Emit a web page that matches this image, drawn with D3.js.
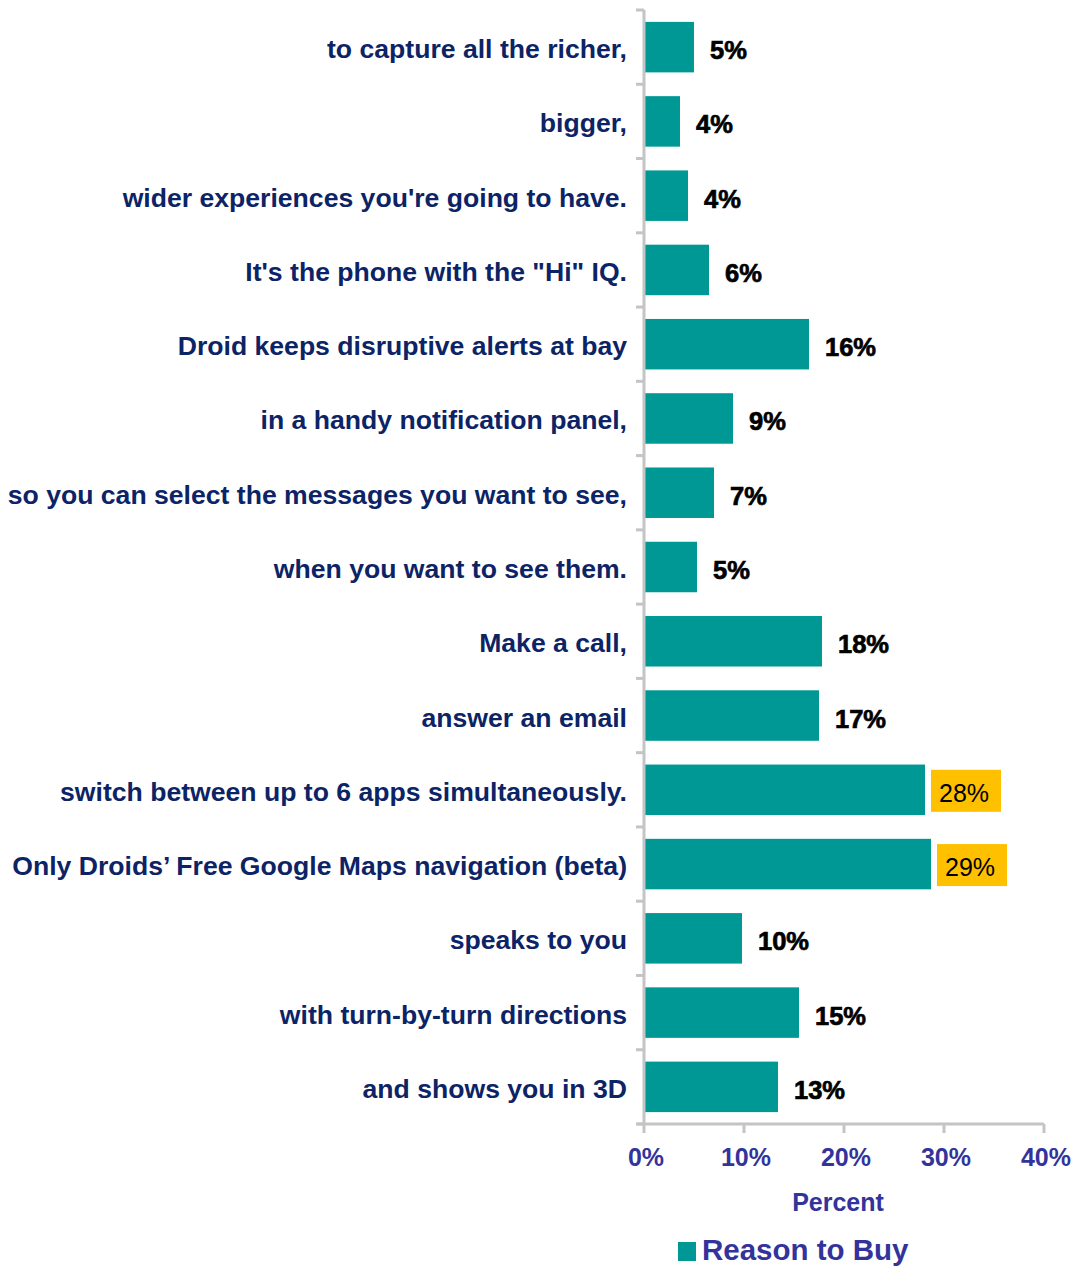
<!DOCTYPE html>
<html>
<head>
<meta charset="utf-8">
<script src="https://cdn.jsdelivr.net/npm/d3@7"></script>
<style>
  body { margin: 0; background: #fff; }
  svg text { font-family: Arial, "Liberation Sans", sans-serif; }
</style>
</head>
<body>
<svg id="Viz" width="1082" height="1266"></svg>
<script>
var categories = [
  "to capture all the richer,",
  "bigger,",
  "wider experiences you're going to have.",
  "It's the phone with the \"Hi\" IQ.",
  "Droid keeps disruptive alerts at bay",
  "in a handy notification panel,",
  "so you can select the messages you want to see,",
  "when you want to see them.",
  "Make a call,",
  "answer an email",
  "switch between up to 6 apps simultaneously.",
  "Only Droids\u2019 Free Google Maps navigation (beta)",
  "speaks to you",
  "with turn-by-turn directions",
  "and shows you in 3D"
];
var values = [5.0, 3.6, 4.4, 6.5, 16.5, 8.9, 7.0, 5.3, 17.8, 17.5, 28.1, 28.7, 9.8, 15.5, 13.4];
var valueLabels = ["5%", "4%", "4%", "6%", "16%", "9%", "7%", "5%", "18%", "17%", "28%", "29%", "10%", "15%", "13%"];
var callouts = ["switch between up to 6 apps simultaneously.", "Only Droids\u2019 Free Google Maps navigation (beta)"];
var xTicks = [0, 10, 20, 30, 40];
var seriesName = "Reason to Buy";
var axisTitle = "Percent";

var svg = d3.select("#Viz"),
    plotLeft = 644, plotRight = 1044, plotTop = 10, plotBottom = 1124;

var teal = "#009894", grid = "#c4c4c4";

var x = d3.scaleLinear().domain([0, 40]).range([plotLeft, plotRight]);
var y = d3.scaleBand().domain(categories).range([plotTop, plotBottom])
  .paddingInner(0.32).paddingOuter(0.16);

// bars
svg.append("g").selectAll("rect")
  .data(categories)
  .enter().append("rect")
  .attr("x", x(0) + 1)
  .attr("y", function(d) { return y(d); })
  .attr("width", function(d, i) { return x(values[i]) - x(0) - 1; })
  .attr("height", y.bandwidth())
  .attr("fill", teal);

// category axis
var step = y.step();
svg.append("line")
  .attr("x1", plotLeft).attr("x2", plotLeft)
  .attr("y1", plotTop).attr("y2", plotBottom)
  .attr("stroke", grid).attr("stroke-width", 3);
svg.append("g").selectAll("line")
  .data(d3.range(categories.length + 1))
  .enter().append("line")
  .attr("x1", plotLeft - 8).attr("x2", plotLeft)
  .attr("y1", function(i) { return plotTop + i * step; })
  .attr("y2", function(i) { return plotTop + i * step; })
  .attr("stroke", grid).attr("stroke-width", 3);

svg.append("g").selectAll("text")
  .data(categories)
  .enter().append("text")
  .attr("x", 627)
  .attr("y", function(d) { return y(d) + y.bandwidth() / 2 + 11; })
  .attr("text-anchor", "end")
  .attr("font-size", 26.6)
  .attr("font-weight", "bold")
  .attr("fill", "#0c2466")
  .text(function(d) { return d; });

// value axis
svg.append("line")
  .attr("x1", plotLeft - 7).attr("x2", plotRight)
  .attr("y1", plotBottom).attr("y2", plotBottom)
  .attr("stroke", grid).attr("stroke-width", 3);
svg.append("g").selectAll("line")
  .data(xTicks)
  .enter().append("line")
  .attr("x1", function(d) { return x(d); })
  .attr("x2", function(d) { return x(d); })
  .attr("y1", plotBottom).attr("y2", plotBottom + 9)
  .attr("stroke", grid).attr("stroke-width", 3);
svg.append("g").selectAll("text")
  .data(xTicks)
  .enter().append("text")
  .attr("x", function(d) { return x(d) + 2; })
  .attr("y", 1166)
  .attr("text-anchor", "middle")
  .attr("font-size", 25)
  .attr("font-weight", "bold")
  .attr("fill", "#33339c")
  .text(function(d) { return d + "%"; });

svg.append("text")
  .attr("x", 838).attr("y", 1211)
  .attr("text-anchor", "middle")
  .attr("font-size", 25)
  .attr("font-weight", "bold")
  .attr("fill", "#33339c")
  .text(axisTitle);

// value labels
var lab = svg.append("g").selectAll("g")
  .data(categories)
  .enter().append("g");

lab.filter(function(d) { return callouts.indexOf(d) >= 0; })
  .append("rect")
  .attr("x", function(d) { return x(values[categories.indexOf(d)]) + 6; })
  .attr("y", function(d) { return y(d) + y.bandwidth() / 2 - 20; })
  .attr("width", 70).attr("height", 42)
  .attr("fill", "#ffc000");

lab.append("text")
  .attr("x", function(d, i) {
    return callouts.indexOf(d) >= 0 ? x(values[i]) + 14 : x(values[i]) + 16;
  })
  .attr("y", function(d) { return y(d) + y.bandwidth() / 2 + 12; })
  .attr("font-size", function(d) { return callouts.indexOf(d) >= 0 ? 25 : 25.5; })
  .attr("font-weight", function(d) { return callouts.indexOf(d) >= 0 ? "normal" : "bold"; })
  .attr("stroke", function(d) { return callouts.indexOf(d) >= 0 ? "none" : "#000"; })
  .attr("stroke-width", 0.7)
  .attr("fill", "#000")
  .text(function(d, i) { return valueLabels[i]; });

// legend
svg.append("rect")
  .attr("x", 678).attr("y", 1242)
  .attr("width", 18).attr("height", 19)
  .attr("fill", teal);
svg.append("text")
  .attr("x", 702).attr("y", 1260)
  .attr("font-size", 29.5)
  .attr("font-weight", "bold")
  .attr("fill", "#33339c")
  .text(seriesName);
</script>
</body>
</html>
